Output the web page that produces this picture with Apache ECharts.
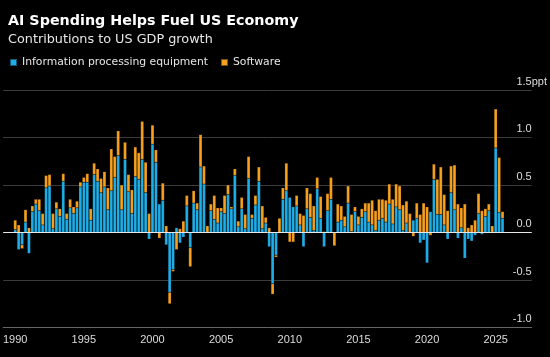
<!DOCTYPE html>
<html><head><meta charset="utf-8">
<script src="https://cdn.jsdelivr.net/npm/echarts@6/dist/echarts.min.js"></script>
<style>html,body{margin:0;padding:0;background:#000;}#c{width:550px;height:357px;}</style>
</head><body><div id="c"></div>
<script>
// First data quarter: 1990 Q1 ; last: 2025 Q3
const firstYear = 1990;
const tickYears = ['1990','1995','2000','2005','2010','2015','2020','2025'];
const yTicks = [-1.0, -0.5, 0.0, 0.5, 1.0, 1.5];

// Information processing equipment (ppt contribution)
const equipment = [
  0.03,-0.18,-0.13,0.11, -0.22,0.22,0.30,0.23, 0.08,0.47,0.49,0.04, 0.25,0.17,0.54,0.14,
  0.26,0.20,0.26,0.48, 0.53,0.53,0.13,0.61, 0.54,0.42,0.48,0.24, 0.44,0.58,0.81,0.24,
  0.77,0.43,0.20,0.59, 0.56,0.77,0.42,-0.07, 0.93,0.74,0.30,0.34, -0.13,-0.63,-0.39,0.05,
  -0.11,-0.05,0.28,-0.16, 0.31,0.24,0.69,0.51, 0,0.23,0.14,0.10, 0.22,0.20,0.40,0.25,
  0.60,0.06,0.25,0.04, 0.57,0.15,0.29,0.54, 0.04,0.10,-0.15,-0.54, -0.24,0,0.35,0.44,
  0.37,0.27,0.28,0.08, -0.15,0.25,0.16,0.02, 0.46,0.15,-0.15,0.23, 0.35,0,0.11,0.13,
  0.06,0.31,0.01,0.22, 0.08,0.16,0.22,0.11, 0.08,0.02,0.13,0.15, 0.11,0.30,0.09,0.27,
  0.24,0.02,0.10,0, 0.13,0.15,-0.11,-0.08, -0.32,0.22,0.56,0.19, 0.19,0.08,-0.07,0.42,
  0.24,-0.06,0.05,-0.27, -0.07,-0.09,-0.03,0.20, -0.02,0.17,0.23,0, 0.89,0.21,0.15
];
// Software (ppt contribution)
const software = [
  0.10,0.08,-0.04,0.13, 0.05,0.06,0.05,0.12, 0.12,0.13,0.12,0.16, 0.07,0.08,0.08,0.06,
  0.09,0.07,0.07,0.05, 0.05,0.09,0.12,0.12, 0.13,0.15,0.16,0.23, 0.44,0.22,0.26,0.26,
  0.18,0.18,0.25,0.31, 0.28,0.40,0.32,0.20, 0.20,0.13,-0.06,0.18, 0.07,-0.12,-0.02,-0.18,
  0.04,0.12,0.11,-0.20, 0.13,0.07,0.34,0.19, 0.07,0.07,0.25,0.16, 0.04,0.19,0.10,0.02,
  0.07,0.06,0.12,0.15, 0.23,0.04,0.10,0.15, 0.24,0.06,0.05,-0.11, -0.02,0.15,0.12,0.29,
  -0.10,-0.10,0.11,0.12, 0.18,0.22,0.25,0.26, 0.12,0.23,0.01,0.18, 0.23,-0.14,0.19,0.15,
  0.11,0.18,0.18,0.05, 0.09,0.09,0.09,0.20, 0.26,0.21,0.22,0.20, 0.23,0.21,0.26,0.24,
  0.25,0.27,0.23,0.20, -0.04,0.16,0.19,0.31, 0.27,-0.03,0.16,0.37, 0.50,0.32,0.23,0.28,
  0.47,0.30,0.21,0.30, 0.05,0.08,0.13,0.21, 0.23,0.08,0.07,0.07, 0.41,0.58,0.07
];

const padBefore = 3, padAfter = 8;
const categories = [];
for (let i = -padBefore; i < equipment.length + padAfter; i++) {
  const q = ((i % 4) + 4) % 4;
  categories.push((firstYear + Math.floor(i / 4)) + ' Q' + (q + 1));
}
const pad = arr => Array(padBefore).fill(null).concat(arr, Array(padAfter).fill(null));
const isMajor = (idx, val) => val.endsWith('Q1') && tickYears.includes(val.slice(0, 4));
const isMinor = (idx) => idx >= padBefore && idx < padBefore + equipment.length && (idx - padBefore) % 2 === 0;

const BLUE = '#1eaee8', ORANGE = '#f7a11e';
const labelFont = 'Liberation Sans';
const chart = echarts.init(document.getElementById('c'), null, {renderer: 'canvas'});
chart.setOption({
  backgroundColor: '#000',
  animation: false,
  title: [
    {text: 'AI Spending Helps Fuel US Economy', left: 3, top: 9,
     textStyle: {color: '#ffffff', fontFamily: 'DejaVu Sans', fontWeight: 'bold', fontSize: 14.3}},
    {text: 'Contributions to US GDP growth', left: 3, top: 28,
     textStyle: {color: '#e6e6e6', fontFamily: 'DejaVu Sans', fontWeight: 'normal', fontSize: 12.8}}
  ],
  legend: {
    left: 4, top: 52, itemWidth: 7, itemHeight: 7, itemGap: 12, icon: 'rect',
    textStyle: {color: '#e6e6e6', fontFamily: 'DejaVu Sans', fontSize: 10.8},
    data: ['Information processing equipment', 'Software']
  },
  grid: {left: 3, right: 17, top: 90, bottom: 29.5, containLabel: false},
  xAxis: [
    {type: 'category', data: categories, boundaryGap: true, position: 'bottom',
     axisLine: {onZero: false, lineStyle: {color: '#666', width: 1}},
     axisTick: {alignWithLabel: true, interval: isMajor, length: 6, lineStyle: {color: '#999'}},
     axisLabel: {interval: isMajor, formatter: v => v.slice(0, 4), color: '#dddddd',
                 fontFamily: labelFont, fontSize: 11, margin: 7},
     splitLine: {show: false}},
    {type: 'category', data: categories, boundaryGap: true, position: 'bottom', offset: 0,
     axisLine: {show: false, onZero: false},
     axisTick: {alignWithLabel: true, interval: isMinor, length: 3, lineStyle: {color: '#888'}},
     axisLabel: {show: false}, splitLine: {show: false}}
  ],
  yAxis: {
    type: 'value', min: yTicks[0], max: yTicks[yTicks.length - 1], interval: 0.5, position: 'right',
    axisLine: {show: false}, axisTick: {show: false},
    splitLine: {lineStyle: {color: '#3c3c3c', width: 1}},
    axisLabel: {
      align: 'left', verticalAlign: 'bottom', margin: -20, padding: [0, 0, 3, 0],
      color: '#dddddd', fontFamily: labelFont, fontSize: 11,
      formatter: v => {
        const s = v.toFixed(1);
        return v === yTicks[yTicks.length - 1] ? '{n|' + s + '}{u|ppt}' : '{n|' + s + '}';
      },
      rich: {
        n: {width: 20, align: 'right', color: '#dddddd', fontFamily: labelFont, fontSize: 11},
        u: {align: 'right', color: '#dddddd', fontFamily: labelFont, fontSize: 11}
      }
    }
  },
  series: [
    {name: 'Information processing equipment', type: 'bar', stack: 'total', xAxisIndex: 0,
     data: pad(equipment), barCategoryGap: '10%',
     itemStyle: {color: BLUE, borderColor: 'rgba(0,0,0,0.5)', borderWidth: 0.3}},
    {name: 'Software', type: 'bar', stack: 'total', xAxisIndex: 0,
     data: pad(software), barCategoryGap: '10%',
     itemStyle: {color: ORANGE, borderColor: 'rgba(0,0,0,0.5)', borderWidth: 0.3},
     markLine: {silent: true, symbol: 'none', label: {show: false}, z: 10,
                lineStyle: {color: '#e8e8e8', width: 1, type: 'solid'},
                data: [{yAxis: 0}]}}
  ]
});
</script></body></html>
